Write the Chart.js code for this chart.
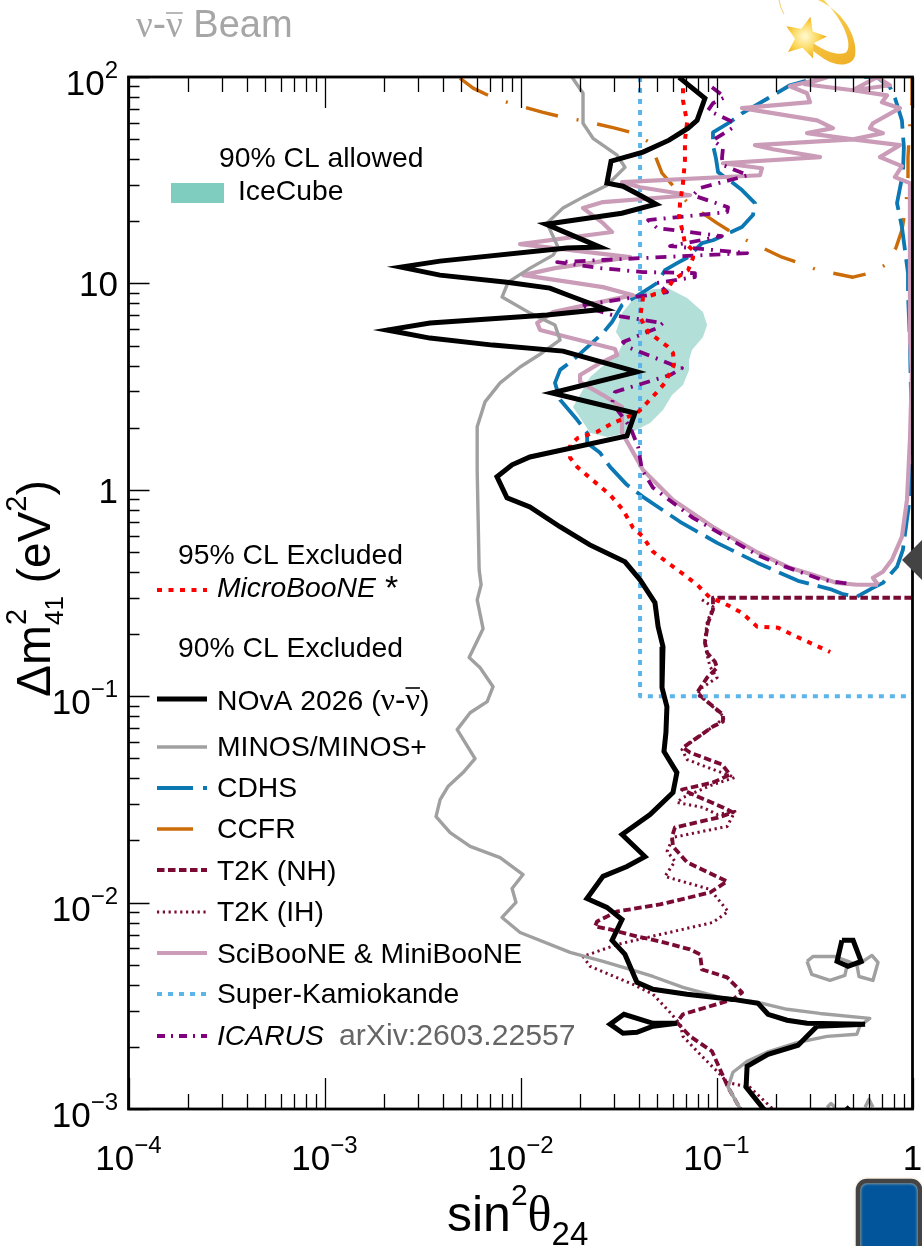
<!DOCTYPE html>
<html><head><meta charset="utf-8">
<script src="https://cdn.jsdelivr.net/npm/chart.js@4"></script>
<style>html,body{margin:0;padding:0;background:#fff}canvas{display:block}</style>
</head><body>
<canvas id="c" width="922" height="1246"></canvas>
<script>
// All values are log10(sin^2 theta_24) and log10(dm^2_41).
const novaLogS=[-1.191,-1.059,-1.099,-1.145,-1.242,-1.375,-1.538,-1.559,-1.477,-1.390,-1.309,-1.483,-1.870,-1.594,-1.763,-2.411,-2.610,-2.411,-2.069,-1.850,-1.732,-1.568,-1.865,-2.462,-2.680,-2.462,-2.141,-1.783,-1.406,-1.840,-1.416,-1.457,-1.952,-2.043,-2.120,-2.069,-1.952,-1.799,-1.646,-1.467,-1.390,-1.314,-1.298,-1.273,-1.278,-1.253,-1.258,-1.268,-1.202,-1.222,-1.339,-1.482,-1.365,-1.457,-1.579,-1.661,-1.559,-1.482,-1.533,-1.467,-1.406,-1.324,-1.151,-.916,-.788,-.737,-.640,-.538,-.242,-.487,-.584,-.737,-.844,-.849,-.763,-.717];
const novaLogM=[1.998,1.897,1.790,1.752,1.694,1.636,1.592,1.486,1.471,1.427,1.384,1.340,1.287,1.176,1.171,1.108,1.079,1.040,1.006,.977,.934,.876,.847,.808,.774,.735,.701,.672,.571,.469,.372,.261,.159,.121,.063,-.039,-.083,-.179,-.267,-.349,-.436,-.547,-.663,-.760,-.959,-1.051,-1.176,-1.268,-1.370,-1.467,-1.573,-1.670,-1.777,-1.825,-1.873,-1.980,-2.023,-2.082,-2.183,-2.251,-2.386,-2.420,-2.444,-2.469,-2.488,-2.541,-2.570,-2.585,-2.589,-2.599,-2.691,-2.735,-2.793,-2.894,-2.996,-3.04];
const novaIslandALogS=[-1.202,-1.324,-1.406,-1.477,-1.543,-1.472,-1.324,-1.202];
const novaIslandALogM=[-2.585,-2.599,-2.628,-2.633,-2.589,-2.541,-2.585,-2.585];
const novaIslandBLogS=[-.360,-.385,-.329,-.262,-.303,-.360];
const novaIslandBLogM=[-2.183,-2.285,-2.309,-2.285,-2.183,-2.183];
const novaIslandCLogS=[-.340,-.319];
const novaIslandCLogM=[-2.99,-3.01];

const minosLogS=[-1.737,-1.681,-1.681,-1.630,-1.507,-1.467,-1.558,-1.681,-1.783,-1.865,-1.809,-1.834,-1.951,-2.063,-2.094,-1.951,-1.824,-1.798,-1.890,-2.002,-2.104,-2.181,-2.221,-2.221,-2.216,-2.211,-2.201,-2.221,-2.191,-2.262,-2.206,-2.140,-2.170,-2.257,-2.323,-2.232,-2.293,-2.370,-2.410,-2.431,-2.359,-2.257,-2.104,-1.987,-2.043,-2.023,-2.094,-2.002,-1.747,-1.579,-1.441,-1.324,-1.171,-.982,-.788,-.640,-.473,-.218,-.269,-.284,-.436,-.584,-.742,-.844,-.916,-.941,-.881,-.855];
const minosLogM=[1.999,1.921,1.776,1.703,1.621,1.563,1.476,1.418,1.365,1.292,1.176,1.137,1.074,1.006,.934,.856,.798,.726,.663,.595,.518,.426,.305,.096,-.146,-.387,-.460,-.533,-.673,-.813,-.862,-.954,-1.026,-1.080,-1.162,-1.302,-1.370,-1.438,-1.501,-1.583,-1.661,-1.728,-1.782,-1.864,-1.932,-1.999,-2.072,-2.145,-2.241,-2.285,-2.324,-2.358,-2.411,-2.459,-2.483,-2.517,-2.537,-2.561,-2.599,-2.638,-2.648,-2.677,-2.725,-2.769,-2.822,-2.894,-2.996,-3.04];
const minosIslandLogS=[-.538,-.508,-.396,-.329,-.345,-.421,-.514,-.538];
const minosIslandLogM=[-2.285,-2.261,-2.261,-2.285,-2.353,-2.377,-2.348,-2.285];
const minosIsland2LogS=[-.329,-.283,-.207,-.176,-.202,-.273,-.283];
const minosIsland2LogM=[-2.285,-2.304,-2.256,-2.290,-2.377,-2.358,-2.304];
const minosSpeckALogS=[-.436,-.416,-.395];
const minosSpeckALogM=[-2.992,-2.973,-2.992];
const minosSpeckBLogS=[-.242,-.222,-.202];
const minosSpeckBLogM=[-2.992,-2.953,-2.992];

const cdhsLogS=[-.457,-.304,-.181,-.115,-.089,-.054,-.044,-.049,-.079,-.054,-.023,-.023,-.013,-.003,-.013,-.023,-.049,-.079,-.151,-.202,-.284,-.360,-.411,-.584,-.793,-.997,-1.186,-1.375,-1.457,-1.543,-1.594,-1.660,-1.660,-1.711,-1.798,-1.824,-1.798,-1.732,-1.579,-1.533,-1.482,-1.375,-1.303,-1.263,-1.201,-1.145,-1.074,-1.018,-.870,-.814,-.804,-.870,-.916,-.992,-1.003,-1.018,-1.018,-.931,-.870,-.737,-.625,-.457];
const cdhsLogM=[2.003,2.003,1.999,1.95,1.897,1.790,1.660,1.534,1.389,1.273,1.050,.953,.711,.242,-.034,-.107,-.291,-.373,-.451,-.475,-.518,-.504,-.484,-.441,-.353,-.257,-.155,-.034,.024,.111,.179,.227,.276,.339,.436,.518,.581,.629,.760,.813,.895,.958,1.002,1.064,1.098,1.127,1.195,1.209,1.273,1.331,1.389,1.452,1.486,1.539,1.607,1.670,1.732,1.781,1.824,1.897,1.96,2.003];

const ccfrLogS=[-2.309,-2.242,-2.145,-2.053,-1.885,-1.783,-1.671,-1.518,-1.421,-1.334,-1.314,-1.278,-1.145,-.997,-.916,-.829,-.666,-.574,-.483,-.304,-.217,-.141,-.085,-.054,-.034,-.023,-.023,-.013,-.003,-.003];
const ccfrLogM=[1.994,1.946,1.902,1.873,1.829,1.805,1.786,1.752,1.728,1.679,1.621,1.534,1.389,1.292,1.244,1.200,1.127,1.098,1.064,1.030,1.050,1.088,1.171,1.258,1.369,1.515,1.612,1.776,1.878,1.994];

const t2kNhLogS=[-.003,-1.018,-1.018,-1.043,-1.059,-1.048,-1.008,-.997,-1.048,-1.099,-1.059,-.967,-.967,-1.018,-1.171,-1.135,-.972,-.931,-1.018,-1.176,-1.120,-.967,-.916,-.992,-1.212,-1.227,-1.222,-1.150,-.946,-1.033,-1.288,-1.507,-1.609,-1.620,-1.543,-1.405,-1.288,-1.135,-1.084,-1.074,-.946,-.870,-.916,-1.171,-1.202,-1.135,-1.023,-.982,-.941,-.881,-.855];
const t2kNhLogM=[-.523,-.523,-.581,-.644,-.741,-.789,-.833,-.862,-.910,-.983,-1.017,-1.089,-1.123,-1.147,-1.249,-1.273,-1.331,-1.380,-1.418,-1.452,-1.476,-1.539,-1.563,-1.588,-1.636,-1.680,-1.728,-1.805,-1.897,-1.951,-2.009,-2.043,-2.091,-2.115,-2.130,-2.164,-2.188,-2.227,-2.251,-2.324,-2.362,-2.435,-2.469,-2.541,-2.580,-2.648,-2.720,-2.808,-2.894,-2.996,-3.02];

const t2kIhLogS=[-1.074,-1.018,-1.048,-1.059,-1.048,-1.033,-.997,-1.074,-1.099,-1.059,-.957,-1.018,-1.161,-1.176,-1.150,-1.018,-.906,-1.018,-1.171,-1.202,-1.069,-.997,-.906,-.946,-1.222,-1.252,-1.212,-1.263,-1.033,-.941,-1.018,-1.354,-1.507,-1.681,-1.645,-1.426,-1.324,-1.237,-1.186,-1.171,-1.084,-.982,-.946,-.829,-.717,-.697];
const t2kIhLogM=[-.533,-.567,-.644,-.726,-.799,-.857,-.910,-.959,-.993,-1.017,-1.104,-1.147,-1.244,-1.259,-1.307,-1.355,-1.394,-1.428,-1.491,-1.515,-1.539,-1.573,-1.559,-1.631,-1.684,-1.752,-1.800,-1.873,-1.936,-2.043,-2.096,-2.169,-2.203,-2.261,-2.309,-2.396,-2.444,-2.532,-2.589,-2.648,-2.735,-2.832,-2.871,-2.895,-2.996,-3.02];

const sciLogS=[-.176,-.202,-.151,-.105,-.054,-.028,-.013,-.003,-.013,-.013,-.090,-.054,-.166,-.064,-.304,-.151,-.217,-.202,-.064,-.156,-.130,-.304,-.115,-.181,-.304,-.549,-.436,-.625,-.538,-.523,-.870,-.487,-.406,-.538,-.304,-.804,-.712,-.472,-.967,-.768,-.778,-1.482,-1.390,-1.135,-1.579,-1.681,-1.579,-1.533,-2.002,-1.441,-1.824,-1.987,-1.747,-1.579,-1.426,-1.834,-1.915,-1.900,-1.762,-1.518,-1.507,-1.594,-1.696,-1.696,-1.579,-1.482,-1.482,-1.441,-1.375,-1.222,-1.018,-.788,-.626,-.508,-.386,-.284,-.176];
const sciLogM=[-.460,-.426,-.397,-.339,-.228,-.048,.242,.566,.726,1.486,1.515,1.568,1.612,1.670,1.698,1.728,1.752,1.776,1.849,1.878,1.911,1.936,1.960,1.999,1.936,1.965,1.999,1.955,1.921,1.878,1.849,1.790,1.752,1.728,1.698,1.670,1.650,1.612,1.582,1.558,1.524,1.491,1.466,1.427,1.394,1.365,1.292,1.249,1.190,1.127,1.074,1.040,1.006,.982,.943,.861,.808,.774,.740,.682,.653,.614,.556,.522,.459,.401,.276,.208,.096,-.049,-.180,-.305,-.378,-.412,-.451,-.460,-.460];

const microLogS=[-1.171,-1.171,-1.150,-1.161,-1.161,-1.171,-1.186,-1.191,-1.171,-1.161,-1.120,-1.120,-1.145,-1.222,-1.252,-1.375,-1.390,-1.349,-1.252,-1.222,-1.217,-1.263,-1.303,-1.375,-1.405,-1.528,-1.609,-1.706,-1.747,-1.747,-1.711,-1.543,-1.477,-1.426,-1.380,-1.324,-1.186,-1.099,-1.033,-.967,-.870,-.793,-.687,-.590,-.420];
const microLogM=[1.945,1.887,1.781,1.694,1.597,1.486,1.389,1.321,1.244,1.195,1.161,1.123,1.064,1.016,.967,.929,.837,.764,.696,.663,.605,.518,.474,.401,.372,.324,.281,.252,.218,.155,.111,-.025,-.097,-.184,-.223,-.300,-.397,-.460,-.523,-.547,-.596,-.663,-.668,-.712,-.786];

const superKLogS=[-1.39,-1.39,0];
const superKLogM=[2,-1,-1];

const icarusLogS=[-1.023,-.957,-1.018,-1.043,-.916,-.921,-1.018,-.967,-.972,-.967,-.839,-1.084,-1.120,-.941,-.946,-1.349,-1.303,-.972,-1.237,-.844,-1.813,-1.594,-1.375,-1.110,-1.110,-1.303,-1.252,-1.579,-1.696,-1.533,-1.273,-1.303,-1.477,-1.441,-1.222,-1.176,-1.237,-1.518,-1.533,-1.441,-1.400,-1.380,-1.324,-1.120,-.793,-.676,-.462,-.355,-.304];
const icarusLogM=[1.950,1.902,1.873,1.839,1.781,1.752,1.694,1.655,1.607,1.573,1.524,1.462,1.427,1.369,1.345,1.307,1.268,1.229,1.181,1.147,1.103,1.074,1.055,1.050,1.031,1.002,.958,.909,.895,.847,.808,.784,.716,.687,.605,.590,.556,.474,.421,.305,.208,.096,.010,-.136,-.315,-.363,-.436,-.451,-.456];

const iceCubeLogS=[-1.247,-1.150,-1.069,-1.048,-1.069,-1.125,-1.140,-1.140,-1.171,-1.227,-1.273,-1.339,-1.426,-1.558,-1.645,-1.732,-1.645,-1.502,-1.477,-1.513,-1.482,-1.416,-1.324];
const iceCubeLogM=[.977,.929,.861,.798,.740,.677,.629,.581,.508,.459,.387,.324,.281,.256,.276,.401,.547,.663,.711,.764,.856,.933,.972];

const xDecades=[-4,-3,-2,-1,0];
const xTickBases=['10','10','10','10','1'];
const xTickExps=['−4','−3','−2','−1',''];
const yDecades=[-3,-2,-1,0,1,2];
const yTickBases=['10','10','10','1','10','10'];
const yTickExps=['−3','−2','−1','','','2'];
const tickMultipliers=[1,2,3,4,5,6,7,8,9];

const SANS='"Liberation Sans"';
const SERIF='"Liberation Serif"';
const C={nova:'#000000',minos:'#A0A0A0',cdhs:'#0B78B4',ccfr:'#CC6C08',t2k:'#7A0A33',sci:'#CA9CB8',sk:'#5BB5EA',icarus:'#800080',micro:'#FF0000',ice:'#B2DFD8',iceKey:'#7FCDBE'};
const STYLE={
 nova:{borderColor:C.nova,borderWidth:5,borderJoinStyle:'miter'},
 minos:{borderColor:C.minos,borderWidth:3.4},
 cdhs:{borderColor:C.cdhs,borderWidth:3.8,borderDash:[32,9]},
 ccfr:{borderColor:C.ccfr,borderWidth:3.4,borderDash:[33,19,2,19]},
 t2kNh:{borderColor:C.t2k,borderWidth:3.8,borderDash:[7.5,3.5]},
 t2kIh:{borderColor:C.t2k,borderWidth:3,borderDash:[2.2,3.6]},
 sci:{borderColor:C.sci,borderWidth:4.2},
 sk:{borderColor:C.sk,borderWidth:4,borderDash:[5,6]},
 icarus:{borderColor:C.icarus,borderWidth:3.8,borderDash:[11,7,2,7]},
 micro:{borderColor:C.micro,borderWidth:4,borderDash:[5,6.5]}
};
const pts=(a,b)=>a.map((v,i)=>({x:Math.pow(10,v),y:Math.pow(10,b[i])}));
function ds(label,a,b,style,order,extra){
  return Object.assign({label,data:pts(a,b),showLine:true,pointRadius:0,pointHoverRadius:0,tension:0,fill:false,borderCapStyle:'butt',borderJoinStyle:'round',order},style,extra||{});
}
const datasets=[
 ds('NOvA 2026',novaLogS,novaLogM,STYLE.nova,0),
 ds('NOvA 2026 island',novaIslandALogS,novaIslandALogM,STYLE.nova,0),
 ds('NOvA 2026 island',novaIslandBLogS,novaIslandBLogM,STYLE.nova,0),
 ds('NOvA 2026 island',novaIslandCLogS,novaIslandCLogM,STYLE.nova,0),
 ds('MINOS/MINOS+',minosLogS,minosLogM,STYLE.minos,1),
 ds('MINOS/MINOS+ island',minosIslandLogS,minosIslandLogM,STYLE.minos,1),
 ds('MINOS/MINOS+ island',minosIsland2LogS,minosIsland2LogM,STYLE.minos,1),
 ds('MINOS/MINOS+ island',minosSpeckALogS,minosSpeckALogM,STYLE.minos,1),
 ds('MINOS/MINOS+ island',minosSpeckBLogS,minosSpeckBLogM,STYLE.minos,1),
 ds('MicroBooNE',microLogS,microLogM,STYLE.micro,2),
 ds('ICARUS',icarusLogS,icarusLogM,STYLE.icarus,3),
 ds('SciBooNE & MiniBooNE',sciLogS,sciLogM,STYLE.sci,4),
 ds('Super-Kamiokande',superKLogS,superKLogM,STYLE.sk,5),
 ds('T2K (NH)',t2kNhLogS,t2kNhLogM,STYLE.t2kNh,6),
 ds('T2K (IH)',t2kIhLogS,t2kIhLogM,STYLE.t2kIh,7),
 ds('CDHS',cdhsLogS,cdhsLogM,STYLE.cdhs,8),
 ds('CCFR',ccfrLogS,ccfrLogM,STYLE.ccfr,9),
 ds('IceCube',iceCubeLogS,iceCubeLogM,{borderWidth:0,borderColor:C.ice,backgroundColor:C.ice},10,{fill:'shape'})
];

function rich(ctx,x,y,pieces,color,rot){
  ctx.save();ctx.translate(x,y);if(rot)ctx.rotate(rot);
  ctx.fillStyle=color;ctx.strokeStyle=color;ctx.textBaseline='alphabetic';ctx.textAlign='left';
  let px=0;
  for(const p of pieces){
    ctx.font=(p.style?p.style+' ':'')+p.size+'px '+(p.family||SANS);
    const w=ctx.measureText(p.t).width;
    ctx.fillText(p.t,px,p.dy||0);
    if(p.bar){ctx.lineWidth=1.6;ctx.beginPath();ctx.moveTo(px,-p.bar);ctx.lineTo(px+w,-p.bar);ctx.stroke();}
    px+=(p.adv!==undefined?p.adv:w);
  }
  ctx.restore();
}
function makeTicks(decades){
  const out=[];
  decades.forEach((d,i)=>{
    tickMultipliers.forEach(m=>{
      if(i===decades.length-1&&m>1)return;
      out.push({value:Number(m+'e'+d),major:m===1});
    });
  });
  return out;
}

const TICK_SIZE=35,EXP_SIZE=24,EXP_RISE=17;
const inwardTicks={id:'inwardTicks',afterDatasetsDraw(chart){
  const {ctx,chartArea:a,scales:{x,y}}=chart;
  ctx.save();ctx.strokeStyle='#000';ctx.lineWidth=1.3;ctx.setLineDash([]);
  ctx.beginPath();
  x.ticks.forEach(t=>{
    const p=Math.round(x.getPixelForValue(t.value))+.5,l=t.major?31:15;
    ctx.moveTo(p,a.top);ctx.lineTo(p,a.top+l);
    ctx.moveTo(p,a.bottom);ctx.lineTo(p,a.bottom-l);
  });
  y.ticks.forEach(t=>{
    const p=Math.round(y.getPixelForValue(t.value))+.5,l=t.major?21:11;
    ctx.moveTo(a.left,p);ctx.lineTo(a.left+l,p);
  });
  ctx.stroke();
  ctx.lineWidth=2.8;ctx.strokeRect(a.left,a.top,a.right-a.left,a.bottom-a.top);
  ctx.restore();
}};
const tickLabels={id:'tickLabels',afterDraw(chart){
  const {ctx,chartArea,scales:{x,y}}=chart;
  const width=(b,e)=>{ctx.font=TICK_SIZE+'px '+SANS;let w=ctx.measureText(b).width;ctx.font=EXP_SIZE+'px '+SANS;return w+ctx.measureText(e).width;};
  xDecades.forEach((d,i)=>{
    const b=xTickBases[i],e=xTickExps[i],w=width(b,e),p=x.getPixelForValue(Math.pow(10,d));
    rich(ctx,p-w/2,chartArea.bottom+61,[{t:b,size:TICK_SIZE},{t:e,size:EXP_SIZE,dy:-EXP_RISE}],'#000');
  });
  yDecades.forEach((d,i)=>{
    const b=yTickBases[i],e=yTickExps[i],w=width(b,e),p=y.getPixelForValue(Math.pow(10,d));
    rich(ctx,118-w,p+(e?18:13),[{t:b,size:TICK_SIZE},{t:e,size:EXP_SIZE,dy:-EXP_RISE}],'#000');
  });
}};

const keyRows=[
 {y:597,base:'micro',text:'MicroBooNE',italic:true},
 {y:710,sw:699,base:'nova',text:'NOvA 2026 ('},
 {y:756,sw:747,base:'minos',text:'MINOS/MINOS+'},
 {y:797,sw:788,base:'cdhs',text:'CDHS'},
 {y:838,sw:829,base:'ccfr',text:'CCFR'},
 {y:880,sw:870,base:'t2kNh',text:'T2K (NH)'},
 {y:921,sw:912,base:'t2kIh',text:'T2K (IH)'},
 {y:963,sw:953,base:'sci',text:'SciBooNE & MiniBooNE'},
 {y:1003,sw:994,base:'sk',text:'Super-Kamiokande'},
 {y:1045,sw:1036,base:'icarus',text:'ICARUS',italic:true}
];
const keyFont=28.3;
const keyPlugin={id:'keyPlugin',afterDatasetsDraw(chart){
  const ctx=chart.ctx;
  const txt=(s,x,y,it,col,size)=>{ctx.font=(it?'italic ':'')+(size||keyFont)+'px '+SANS;ctx.fillStyle=col||'#000';ctx.textBaseline='alphabetic';ctx.textAlign='left';ctx.fillText(s,x,y);};
  txt('90% CL allowed',219,167);
  ctx.fillStyle=C.iceKey;ctx.fillRect(171,183,53,20);
  txt('IceCube',238,200);
  txt('95% CL Excluded',178,564);
  txt('90% CL Excluded',178,657);
  keyRows.forEach(r=>{
    const st=STYLE[r.base],sy=r.sw||590;
    ctx.save();ctx.strokeStyle=st.borderColor;ctx.lineWidth=st.borderWidth;
    if(r.base==='cdhs'){ctx.setLineDash([36,10,4,20]);}
    else if(r.base==='ccfr'){ctx.setLineDash([36,20]);}
    else if(r.base==='icarus'){ctx.setLineDash([8,6,2,6]);}
    else ctx.setLineDash(st.borderDash||[]);
    ctx.beginPath();ctx.moveTo(157,sy);ctx.lineTo(207,sy);ctx.stroke();ctx.restore();
    txt(r.text,217,r.y,r.italic);
  });
  txt('*',385,599,false,'#000',34);
  ctx.font=keyFont+'px '+SANS;
  const w0=ctx.measureText('NOvA 2026 (').width;
  rich(ctx,217+w0,710,[{t:'ν',size:32,family:SERIF},{t:'-',size:keyFont+3},{t:'ν',size:32,family:SERIF,bar:22},{t:')',size:keyFont}],'#000');
  txt('arXiv:2603.22557',339,1045,false,'#666666',30.2);
}};

const titles={id:'titles',afterDraw(chart){
  const ctx=chart.ctx;
  rich(ctx,136,37,[{t:'ν',size:37,family:SERIF},{t:'-',size:40},{t:'ν',size:37,family:SERIF,bar:24},{t:' Beam',size:38}],'#A6A6A6');
  rich(ctx,447,1231,[{t:'sin',size:50},{t:'2',size:30,dy:-26},{t:'θ',size:50,family:SERIF},{t:'24',size:33,dy:14}],'#000');
  rich(ctx,50,697,[{t:'Δ',size:48},{t:'m',size:48},{t:'2',size:29,dy:-24,adv:0},{t:'41',size:26,dy:13},{t:' (eV',size:46},{t:'2',size:29,dy:-24},{t:')',size:46}],'#000',-Math.PI/2);
}};

const decor={id:'decor',afterDraw(chart){
  const ctx=chart.ctx;ctx.save();
  ctx.fillStyle='#444';ctx.beginPath();ctx.moveTo(902,560);ctx.lineTo(922,540);ctx.lineTo(922,580);ctx.closePath();ctx.fill();
  ctx.shadowColor='#E8D6B8';ctx.shadowBlur=3;
  ctx.fillStyle='#02559A';ctx.strokeStyle='#444';ctx.lineWidth=4.5;
  ctx.beginPath();ctx.roundRect(858,1181,62,80,9);ctx.fill();ctx.stroke();
  ctx.shadowBlur=0;
  const g=ctx.createLinearGradient(810,0,860,70);g.addColorStop(0,'#FBD65A');g.addColorStop(1,'#EDAA1E');
  ctx.fillStyle=g;
  ctx.beginPath();ctx.moveTo(818,0);ctx.bezierCurveTo(848,14,858,42,855,56);ctx.bezierCurveTo(852,66,838,67,826,60);ctx.bezierCurveTo(818,55,812,50,808,47);ctx.lineTo(812,42);ctx.bezierCurveTo(822,50,836,56,845,53);ctx.bezierCurveTo(852,50,850,28,824,0);ctx.closePath();ctx.fill();
  ctx.strokeStyle='#F5CE6A';ctx.lineWidth=1;ctx.beginPath();ctx.moveTo(779,0);ctx.quadraticCurveTo(780,8,784,14);ctx.stroke();
  const cx=805,cy=38,R=22,r=10;
  const sg=ctx.createRadialGradient(cx,cy-2,2,cx,cy,R);sg.addColorStop(0,'#FFF6C4');sg.addColorStop(.6,'#FBD34F');sg.addColorStop(1,'#EFA91C');
  ctx.fillStyle=sg;ctx.beginPath();
  for(let i=0;i<10;i++){const a=-Math.PI/2+.25+i*Math.PI/5,q=i%2?r:R;ctx.lineTo(cx+q*Math.cos(a),cy+q*Math.sin(a));}
  ctx.closePath();ctx.fill();
  ctx.restore();
}};

new Chart(document.getElementById('c'),{
  type:'scatter',
  data:{datasets},
  options:{
    responsive:false,animation:false,devicePixelRatio:1,
    layout:{padding:{top:77,right:9.5,left:0,bottom:0}},
    plugins:{legend:{display:false},tooltip:{enabled:false}},
    scales:{
      x:{type:'logarithmic',min:1e-4,max:1,
        grid:{display:false},border:{display:false},
        afterBuildTicks(s){s.ticks=makeTicks(xDecades);},
        afterFit(s){s.height=137;s.paddingLeft=0;s.paddingRight=0;},
        ticks:{display:false,autoSkip:false,maxRotation:0,minRotation:0}},
      y:{type:'logarithmic',min:1e-3,max:100,
        grid:{display:false},border:{display:false},
        afterBuildTicks(s){s.ticks=makeTicks(yDecades);},
        afterFit(s){s.width=128.5;s.paddingTop=0;s.paddingBottom=0;},
        ticks:{display:false,autoSkip:false}}
    }
  },
  plugins:[inwardTicks,keyPlugin,tickLabels,titles,decor]
});
</script>
</body></html>
